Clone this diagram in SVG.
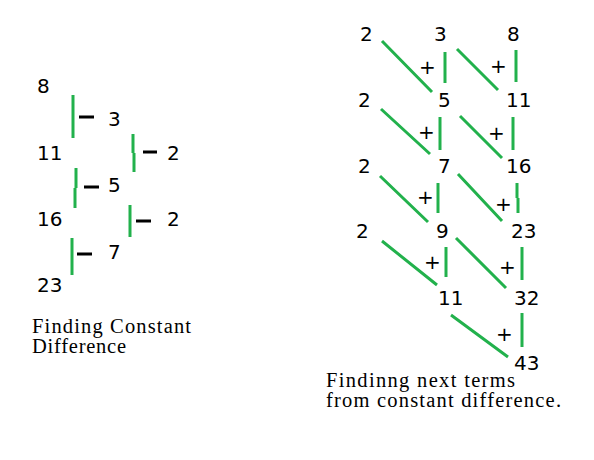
<svg xmlns="http://www.w3.org/2000/svg" width="594" height="460" viewBox="0 0 594 460">
<style>
.n{font-family:"DejaVu Sans",sans-serif;font-size:20px;fill:#000}
.c{font-family:"Liberation Serif",serif;font-size:20.5px;fill:#000}
.g{stroke:#22b14c;stroke-width:3;fill:none;stroke-linecap:butt}
.d{stroke:#000;stroke-width:3}
</style>
<rect width="594" height="460" fill="#fff"/>
<g id="left-terms">
<text class="n" x="37" y="93">8</text>
<text class="n" x="37" y="160">11</text>
<text class="n" x="37" y="226">16</text>
<text class="n" x="37" y="292">23</text>
</g>
<g id="left-diff1">
<text class="n" x="108" y="126">3</text>
<text class="n" x="108" y="192">5</text>
<text class="n" x="108" y="259">7</text>
</g>
<g id="left-diff2">
<text class="n" x="167" y="160">2</text>
<text class="n" x="167" y="226">2</text>
</g>
<g id="connectors">
<path class="g" d="M73 95V138M133 134V153M134 153V172M76 168V188M75 188V208M130 205V237M72 238V275"/>
<path class="d" d="M79 117H94M143 152H157M84 187H99M136 221H151M77 254H92"/>
<path class="g" d="M382 41L432 92M445 52V83M457 49L498 90M516 50V82M381 109L430 154M440 117V150M460 116L502 158M513 117V150M380 176L428 222M438 183V213M458 174L502 221M517 183V198M518 198V213M382 241L437 285M446 247V277M456 238L506 288M522 247V280M451 315L508 357M522 313V347"/>
</g>
<g id="right-col1">
<text class="n" x="360" y="41">2</text>
<text class="n" x="358" y="107">2</text>
<text class="n" x="358" y="173">2</text>
<text class="n" x="356" y="238">2</text>
</g>
<g id="right-col2">
<text class="n" x="434" y="41">3</text>
<text class="n" x="438" y="107">5</text>
<text class="n" x="438" y="173">7</text>
<text class="n" x="436" y="238">9</text>
<text class="n" x="438" y="305">11</text>
</g>
<g id="right-col3">
<text class="n" x="507" y="41">8</text>
<text class="n" x="506" y="107">11</text>
<text class="n" x="506" y="173">16</text>
<text class="n" x="511" y="238">23</text>
<text class="n" x="514" y="305">32</text>
<text class="n" x="514" y="370">43</text>
</g>
<g id="plus-signs">
<text class="n" x="419" y="74">+</text>
<text class="n" x="490" y="73">+</text>
<text class="n" x="418" y="139">+</text>
<text class="n" x="488" y="140">+</text>
<text class="n" x="417" y="204">+</text>
<text class="n" x="495" y="211">+</text>
<text class="n" x="424" y="269">+</text>
<text class="n" x="499" y="274">+</text>
<text class="n" x="496" y="341">+</text>
</g>
<g id="caption-left">
<text class="c" x="32" y="333" textLength="159" lengthAdjust="spacing">Finding Constant</text>
<text class="c" x="32" y="353" textLength="94" lengthAdjust="spacing">Difference</text>
</g>
<g id="caption-right">
<text class="c" x="326" y="387" textLength="189" lengthAdjust="spacing">Findinng next terms</text>
<text class="c" x="326" y="407" textLength="235" lengthAdjust="spacing">from constant difference.</text>
</g>
</svg>
